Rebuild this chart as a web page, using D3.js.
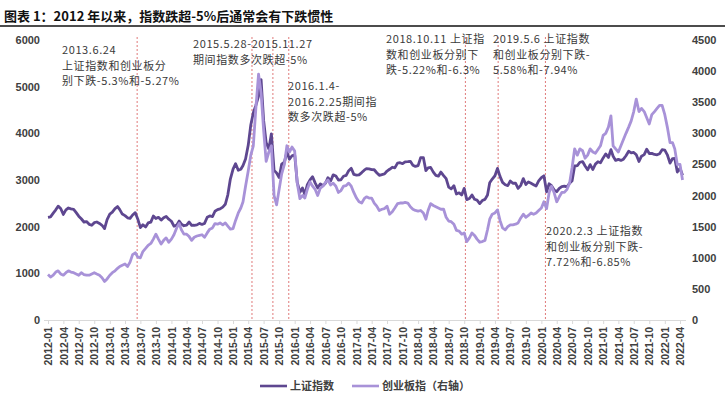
<!DOCTYPE html>
<html>
<head>
<meta charset="utf-8">
<script src="https://cdn.jsdelivr.net/npm/d3@7"></script>
<style>
  body { margin: 0; background: #fff; }
  svg { display: block; }
  .tick text { font-family: "Liberation Sans", Arial, sans-serif; font-weight: bold; fill: #404040; }
  .note { font-family: "Noto Sans CJK SC", sans-serif; font-size: 11px; fill: #3a3a3a; letter-spacing: 0.6px; }
</style>
</head>
<body>
<svg class="chart"></svg>
<script>
var width = 725,
    height = 396;

// 上证指数, two readings per month (1st and 16th), 2012-01 .. 2022-04
var shValues = [
  2200,2210, 2290,2360, 2440,2390, 2262,2360, 2400,2380, 2370,2300, 2225,2170, 2100,2110, 2050,2030, 2086,2100, 2069,2030, 1960,2150,
  2269,2310, 2385,2430, 2366,2270, 2237,2190, 2177,2250, 2300,2160, 1979,2040, 1994,2080, 2098,2230, 2175,2200, 2141,2190, 2220,2160,
  2116,2010, 2033,2120, 2056,2020, 2033,2100, 2026,2030, 2039,2070, 2048,2070, 2201,2230, 2217,2330, 2364,2380, 2420,2480, 2683,3020,
  3235,3350, 3210,3230, 3310,3450, 3748,4180, 4441,4600, 4800,5150, 4277,3800, 3664,3990, 3206,3150, 3053,3340, 3383,3600, 3445,3520,
  3539,2950, 2738,2830, 2688,2900, 3003,3070, 2938,2830, 2917,2880, 2930,3050, 2979,3110, 3085,3000, 3005,3080, 3100,3200, 3250,3120,
  3104,3110, 3159,3210, 3242,3240, 3223,3220, 3155,3100, 3117,3130, 3192,3230, 3273,3260, 3361,3370, 3349,3390, 3393,3400, 3317,3290,
  3307,3480, 3481,3200, 3259,3270, 3169,3100, 3082,3170, 3095,3030, 2847,2810, 2876,2700, 2725,2680, 2821,2580, 2603,2680, 2588,2570,
  2494,2560, 2585,2680, 2940,3020, 3091,3250, 3078,2950, 2899,2880, 2979,2930, 2932,2820, 2886,3030, 2905,2960, 2929,2900, 2872,2980,
  3050,3090, 2746,2920, 2880,2790, 2750,2820, 2860,2870, 2852,2930, 2985,3300, 3310,3380, 3395,3300, 3218,3330, 3225,3340, 3392,3370,
  3473,3560, 3483,3650, 3509,3420, 3441,3420, 3447,3520, 3615,3580, 3591,3540, 3397,3510, 3544,3660, 3568,3570, 3547,3540, 3564,3650,
  3640,3540, 3361,3460, 3462,3170, 3252,3100
];

// 创业板指 (right axis), same dates
var cybValues = [
  730,690, 720,770, 790,740, 720,760, 790,770, 760,740, 720,760, 730,720, 720,740, 760,740, 720,680, 620,660,
  720,760, 790,830, 860,880, 900,860, 930,1050, 1080,1010, 1000,1100, 1150,1200, 1230,1300, 1380,1300, 1220,1280, 1320,1250,
  1300,1370, 1480,1550, 1450,1380, 1380,1340, 1280,1330, 1350,1360, 1370,1330, 1400,1460, 1480,1550, 1540,1560, 1530,1560, 1510,1460,
  1470,1600, 1720,1800, 1900,2150, 2400,2650, 2800,3400, 3950,3650, 3050,2550, 2700,2800, 2000,1850, 2100,2350, 2500,2800, 2700,2780,
  2714,2200, 1950,2000, 1960,2100, 2220,2150, 2100,2000, 2120,2150, 2210,2250, 2170,2200, 2150,2050, 2080,2150, 2160,2200, 2150,2050,
  1960,1900, 1880,1950, 1980,1960, 1960,1880, 1830,1760, 1780,1790, 1830,1700, 1740,1800, 1870,1880, 1880,1890, 1880,1820, 1780,1760,
  1750,1760, 1720,1620, 1760,1870, 1840,1820, 1800,1780, 1780,1650, 1590,1580, 1540,1440, 1430,1380, 1400,1260, 1320,1400, 1360,1300,
  1250,1260, 1280,1450, 1620,1700, 1720,1770, 1600,1480, 1450,1500, 1530,1530, 1540,1560, 1640,1700, 1650,1680, 1720,1700, 1720,1760,
  1800,1900, 1790,2050, 2150,2050, 1900,1980, 2050,2050, 2100,2200, 2450,2750, 2650,2750, 2720,2600, 2650,2750, 2700,2680, 2740,2800,
  2966,3000, 3100,3280, 2800,2750, 2700,2800, 2900,3000, 3100,3200, 3350,3550, 3350,3400, 3350,3250, 3150,3300, 3350,3400, 3450,3450,
  3300,3100, 2850,2850, 2750,2500, 2500,2250
];

var leftTicks = [0, 1000, 2000, 3000, 4000, 5000, 6000];
var rightTicks = [0, 500, 1000, 1500, 2000, 2500, 3000, 3500, 4000, 4500];

// dashed markers, placed where they sit in the picture
var markerDates = ["2013-06-12", "2015-04-23", "2015-08-25", "2015-11-27", "2018-10-08", "2019-04-20", "2020-01-25"];

var notes = [
  {x: 62,  y: 54,  lines: ["2013.6.24", "上证指数和创业板分", "别下跌-5.3%和-5.27%"]},
  {x: 193, y: 48,  lines: ["2015.5.28-2015.11.27", "期间指数多次跌超-5%"]},
  {x: 288, y: 90,  lines: ["2016.1.4-", "2016.2.25期间指", "数多次跌超-5%"]},
  {x: 386, y: 43,  lines: ["2018.10.11 上证指", "数和创业板分别下", "跌-5.22%和-6.3%"]},
  {x: 493, y: 43,  lines: ["2019.5.6 上证指数", "和创业板分别下跌-", "5.58%和-7.94%"]},
  {x: 546, y: 235, lines: ["2020.2.3 上证指数", "和创业板分别下跌-", "7.72%和-6.85%"]}
];

// dates: 1st and 16th of each month
var dates = [];
d3.timeMonth.range(new Date(2012, 0, 1), new Date(2022, 4, 1)).forEach(function(m) {
  dates.push(m, new Date(m.getFullYear(), m.getMonth(), 16));
});
var parse = d3.timeParse("%Y-%m-%d");

var x = d3.scaleTime().domain([new Date(2012, 0, 1), new Date(2022, 3, 1)]).range([48, 680]),
    yL = d3.scaleLinear().domain([0, 6000]).range([320, 40]),
    yR = d3.scaleLinear().domain([0, 4500]).range([320, 40]);

var svg = d3.select(".chart")
    .attr("width", width)
    .attr("height", height);

// title
svg.append("text")
    .attr("x", 4).attr("y", 21)
    .style("font-family", "'Noto Sans CJK SC', sans-serif")
    .style("font-size", "13px")
    .style("font-weight", "bold")
    .style("fill", "#111")
    .text("图表 1：2012 年以来，指数跌超-5%后通常会有下跌惯性");
svg.append("line")
    .attr("x1", 0).attr("x2", width)
    .attr("y1", 26).attr("y2", 26)
    .attr("stroke", "#111").attr("stroke-width", 1.5);

// axes
var xAxis = d3.axisBottom(x)
    .tickValues(d3.timeMonth.every(3).range(new Date(2012, 0, 1), new Date(2022, 3, 2)))
    .tickFormat(d3.timeFormat("%Y-%m"))
    .tickSize(4).tickPadding(3);

var gx = svg.append("g")
    .attr("class", "x axis")
    .attr("transform", "translate(0,320)")
    .call(xAxis);
gx.select(".domain").attr("stroke", "#d9d9d9").attr("d", "M44,0.5H686");
gx.selectAll(".tick line").attr("stroke", "#d9d9d9");
gx.selectAll(".tick text")
    .style("font-size", "10.5px")
    .attr("transform", "rotate(-90)")
    .attr("text-anchor", "end")
    .attr("x", -7).attr("y", 0).attr("dy", "0.35em");

var gl = svg.append("g")
    .attr("class", "y axis")
    .attr("transform", "translate(46,0)")
    .call(d3.axisLeft(yL).tickValues(leftTicks).tickFormat(d3.format("d")).tickSize(0).tickPadding(6));
gl.select(".domain").remove();
gl.selectAll(".tick text").style("font-size", "11px");

var gr = svg.append("g")
    .attr("class", "y axis")
    .attr("transform", "translate(686,0)")
    .call(d3.axisRight(yR).tickValues(rightTicks).tickFormat(d3.format("d")).tickSize(0).tickPadding(6));
gr.select(".domain").remove();
gr.selectAll(".tick text").style("font-size", "11px");

// marker lines
svg.selectAll(".marker")
    .data(markerDates)
  .enter().append("line")
    .attr("class", "marker")
    .attr("x1", function(d) { return x(parse(d)); })
    .attr("x2", function(d) { return x(parse(d)); })
    .attr("y1", 37).attr("y2", 320)
    .attr("stroke", "#e07a7a")
    .attr("stroke-width", 1)
    .attr("stroke-dasharray", "2,2");

// series
var shLine = d3.line()
    .x(function(d, i) { return x(dates[i]); })
    .y(function(d) { return yL(d); });
var cybLine = d3.line()
    .x(function(d, i) { return x(dates[i]); })
    .y(function(d) { return yR(d); });

svg.append("path")
    .datum(shValues)
    .attr("fill", "none")
    .attr("stroke", "#5e4790")
    .attr("stroke-width", 2.8)
    .attr("stroke-linejoin", "round")
    .attr("d", shLine);

svg.append("path")
    .datum(cybValues)
    .attr("fill", "none")
    .attr("stroke", "#a892d8")
    .attr("stroke-width", 2.8)
    .attr("stroke-linejoin", "round")
    .attr("d", cybLine);

// annotations
notes.forEach(function(n) {
  var t = svg.append("text").attr("class", "note");
  n.lines.forEach(function(s, i) {
    t.append("tspan").attr("x", n.x).attr("y", n.y + i * 15.5).text(s);
  });
});

// legend
var legend = [
  {name: "上证指数", color: "#5e4790", x: 260},
  {name: "创业板指（右轴）", color: "#a892d8", x: 352}
];
var lg = svg.selectAll(".legend")
    .data(legend)
  .enter().append("g")
    .attr("class", "legend")
    .attr("transform", function(d) { return "translate(" + d.x + ",386)"; });
lg.append("line")
    .attr("x1", 0).attr("x2", 27)
    .attr("stroke", function(d) { return d.color; })
    .attr("stroke-width", 2.6);
lg.append("text")
    .attr("x", 30).attr("dy", "0.36em")
    .style("font-family", "'Noto Sans CJK SC', sans-serif")
    .style("font-size", "11px")
    .style("font-weight", "bold")
    .style("fill", "#404040")
    .text(function(d) { return d.name; });
</script>
</body>
</html>
